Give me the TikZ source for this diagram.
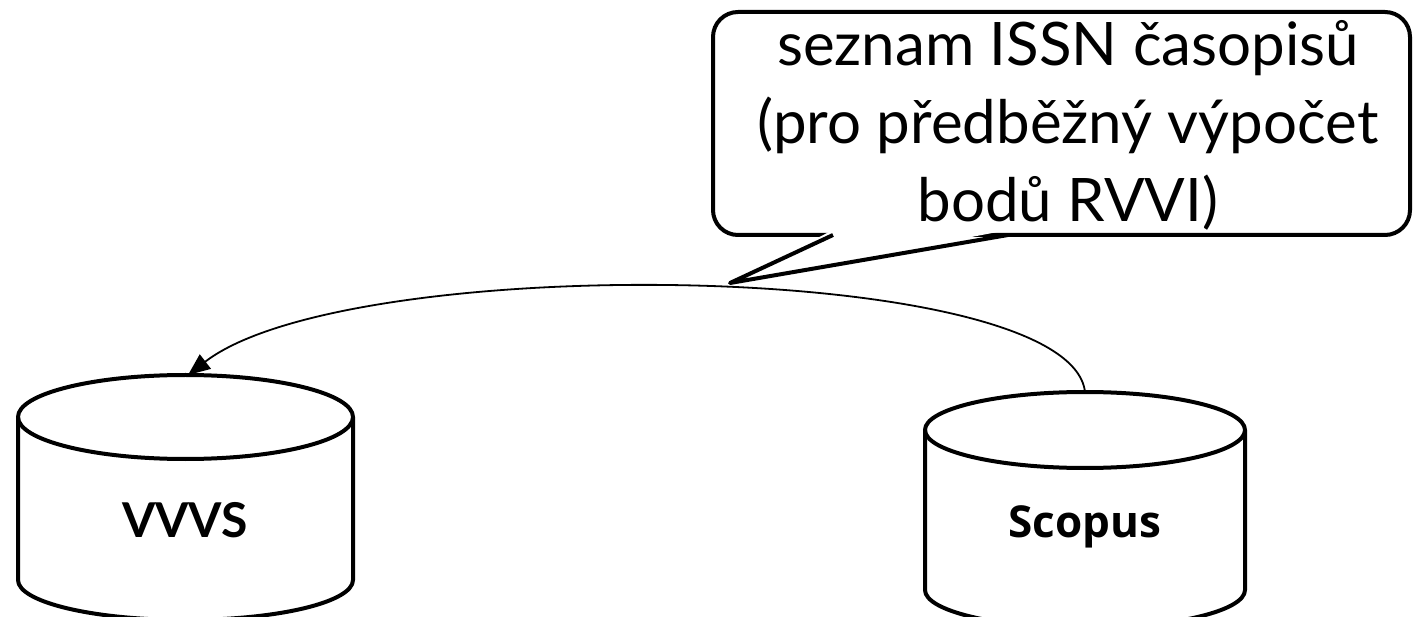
\documentclass[tikz,border=0pt]{standalone}
\usepackage{fontspec}
\setmainfont{Lato}
\newfontfamily\scopusfont{Open Sans}
\usetikzlibrary{arrows.meta}
\tikzset{
  cyl/.style={line width=4pt, line join=round},
  bubble/.style={line width=4pt, line join=round},
  flow/.style={line width=1.8pt, -{Triangle[length=22pt,width=18pt]}},
  dblabel/.style={font=\bfseries\fontsize{48}{56}\selectfont},
  bubbletext/.style={align=center, font=\fontsize{60}{72}\selectfont}
}
\begin{document}
\begin{tikzpicture}[x=1pt,y=-1pt]
\fill[white] (0,0) rectangle (1414,617);
\useasboundingbox (0,0) rectangle (1414,617);
% VVVS cylinder
\draw[cyl] (18,417) -- (18,580) arc[start angle=180,end angle=360,x radius=167.5pt,y radius=40pt] -- (353,417);
\draw[cyl] (185.5,417) ellipse[x radius=167.5pt,y radius=42pt];
\node[dblabel] (vvvs) at (185,520) {VVVS};
\coordinate (vvvstop) at (188,375);
% Scopus cylinder
\draw[cyl] (925,430) -- (925,590) arc[start angle=180,end angle=360,x radius=160pt,y radius=38pt] -- (1245,430);
\draw[cyl] (1085,430) ellipse[x radius=160pt,y radius=38pt];
\node[dblabel, font=\scopusfont\bfseries\fontsize{44}{52}\selectfont] (scopus) at (1085,527) {Scopus};
\coordinate (scopustop) at (1085,392);
% callout
\draw[bubble, rounded corners=25pt] (713,12) rectangle (1410,235);
\coordinate (tail) at (730,283);
\fill[white] (833,230) -- (tail) -- (1008,230) -- cycle;
\draw[bubble] (833,235) -- (tail) -- (1008,235);
\node[bubbletext] (note) at (1068,125) {seznam ISSN časopisů\\[6pt](pro předběžný výpočet\\[6pt]bodů RVVI)};
% connector
\draw[flow] (scopustop) .. controls (1070,260) and (350,250) .. (vvvstop);
\end{tikzpicture}
\end{document}
